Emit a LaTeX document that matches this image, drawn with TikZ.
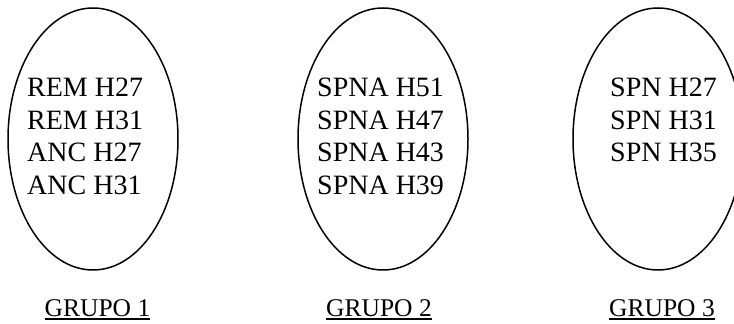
\documentclass[tikz,border=0pt]{standalone}
\usepackage{fontspec}
\setmainfont{Liberation Serif}
\usetikzlibrary{shapes.geometric,positioning}

% underline with a thicker rule
\newcommand\subrayado[1]{\vtop{\hbox{#1}\kern1.2pt\hrule height 1.4pt}}

\begin{document}
\begin{tikzpicture}[
    x=1pt, y=1pt,
    grupo/.style = {ellipse, draw, line width=1.5pt, minimum width=170pt, minimum height=262pt, inner sep=0pt},
    lista/.style = {anchor=north west, align=left, inner sep=0pt, font=\fontsize{28}{32.5}\selectfont},
    rotulo/.style = {anchor=base, inner sep=0pt, font=\fontsize{25.5}{30}\selectfont}
]
\useasboundingbox (0,0) rectangle (734,324);

% Groups
\node[grupo] (g1) at (93,185) {};
\node[grupo] (g2) at (383,185) {};
\node[grupo] (g3) at (658,185) {};

% Members
\node[lista] (m1) at (27,246) {REM H27\\ REM H31\\ ANC H27\\ ANC H31};
\node[lista] (m2) at (317,246) {SPNA H51\\ SPNA H47\\ SPNA H43\\ SPNA H39};
\node[lista] (m3) at (610,246) {SPN H27\\ SPN H31\\ SPN H35};

% Labels
\node[rotulo] (r1) at (97.5,7) {\subrayado{GRUPO 1}};
\node[rotulo] (r2) at (379,7) {\subrayado{GRUPO 2}};
\node[rotulo] (r3) at (662,7) {\subrayado{GRUPO 3}};

\end{tikzpicture}
\end{document}
